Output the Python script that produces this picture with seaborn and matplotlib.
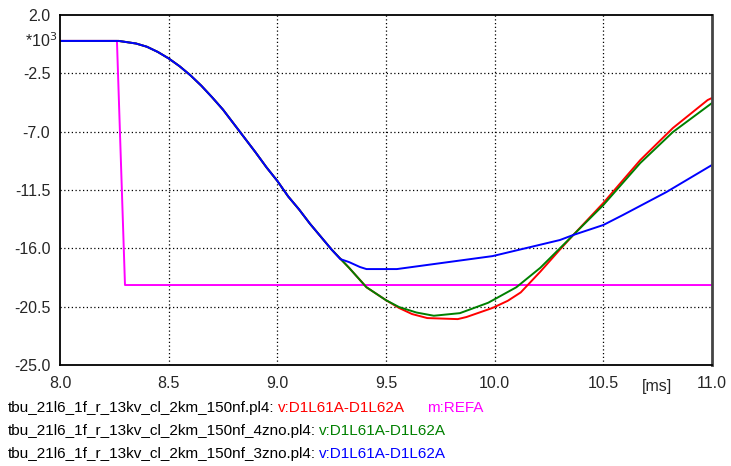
import numpy as np
import pandas as pd
import matplotlib
matplotlib.use("Agg")
import matplotlib.pyplot as plt
import seaborn as sns

# ---- data (time in ms, voltage in kV / *10^3) ----
t_common = [8.0, 8.27, 8.35, 8.40, 8.45, 8.50, 8.55, 8.60, 8.65, 8.70, 8.75, 8.80,
            8.85, 8.90, 8.95, 9.00, 9.05, 9.10, 9.15, 9.20, 9.25]
v_common = [0.0, 0.0, -0.2, -0.45, -0.85, -1.35, -1.95, -2.65, -3.45, -4.35, -5.3, -6.4,
            -7.5, -8.6, -9.75, -10.8, -12.0, -13.0, -14.1, -15.1, -16.1]

t_red = [9.33, 9.41, 9.50, 9.56, 9.62, 9.69, 9.76, 9.83, 9.87, 9.99, 10.06, 10.12, 10.21,
         10.30, 10.36, 10.50, 10.67, 10.82, 10.98, 11.0]
v_red = [-17.5, -19.0, -20.0, -20.6, -21.07, -21.38, -21.42, -21.46, -21.3, -20.6, -20.05, -19.4, -17.8,
         -16.1, -15.0, -12.5, -9.19, -6.72, -4.56, -4.4]

t_green = [9.33, 9.41, 9.50, 9.56, 9.64, 9.72, 9.84, 9.97, 10.10, 10.21, 10.30, 10.36,
           10.50, 10.67, 10.82, 11.0]
v_green = [-17.5, -19.0, -20.0, -20.53, -20.95, -21.2, -21.0, -20.2, -19.0, -17.5, -16.0, -15.0,
           -12.66, -9.42, -7.03, -4.79]

t_blue = [9.29, 9.33, 9.38, 9.41, 9.55, 9.99, 10.30, 10.36, 10.50, 10.59, 10.79, 11.0]
v_blue = [-16.83, -17.06, -17.44, -17.6, -17.6, -16.6, -15.36, -14.98, -14.2, -13.43, -11.66, -9.57]

t_ref = [8.0, 8.262, 8.299, 11.0]
v_ref = [0.0, 0.0, -18.83, -18.83]

x_ticks = [8.0, 8.5, 9.0, 9.5, 10.0, 10.5, 11.0]
y_ticks = [2.0, -2.5, -7.0, -11.5, -16.0, -20.5, -25.0]

files = ["tbu_21l6_1f_r_13kv_cl_2km_150nf.pl4:",
         "tbu_21l6_1f_r_13kv_cl_2km_150nf_4zno.pl4:",
         "tbu_21l6_1f_r_13kv_cl_2km_150nf_3zno.pl4:"]
signal = "v:D1L61A-D1L62A"
ref_name = "m:REFA"

RED, GREEN, BLUE, MAG = "#ff0000", "#008000", "#0000ff", "#ff00ff"

sns.set_style("white")
plt.rcParams["font.family"] = ["Liberation Sans", "DejaVu Sans"]

fig = plt.figure(figsize=(7.31, 4.66), dpi=100)
ax = fig.add_axes([60 / 731, 1 - 365 / 466, 652 / 731, 350 / 466])

def series(tc, vc, ts, vs, name):
    t = list(tc) + list(ts)
    v = list(vc) + list(vs)
    return pd.DataFrame({"t": t, "v": v, "s": name})

df_ref = pd.DataFrame({"t": t_ref, "v": v_ref, "s": "ref"})
sns.lineplot(data=df_ref, x="t", y="v", color=MAG, lw=1.4, ax=ax, sort=False, estimator=None)
sns.lineplot(data=series(t_common, v_common, t_red, v_red, "r"), x="t", y="v",
             color=RED, lw=1.4, ax=ax, sort=False, estimator=None)
sns.lineplot(data=series(t_common, v_common, t_green, v_green, "g"), x="t", y="v",
             color=GREEN, lw=1.4, ax=ax, sort=False, estimator=None)
sns.lineplot(data=series(t_common, v_common, t_blue, v_blue, "b"), x="t", y="v",
             color=BLUE, lw=1.4, ax=ax, sort=False, estimator=None)

ax.set_xlim(8.0, 11.0)
ax.set_ylim(-25.0, 2.0)
ax.set_xticks(x_ticks)
ax.set_yticks(y_ticks)
ax.set_xticklabels([f"{v:.1f}" for v in x_ticks])
ax.set_yticklabels([f"{v:.1f}" for v in y_ticks])
ax.set_xlabel("")
ax.set_ylabel("")
ax.tick_params(axis="both", direction="out", length=5, width=1, color="black",
               labelsize=11.5, pad=3)
ax.tick_params(axis="y", pad=2)
for xv in x_ticks[1:-1]:
    ax.axvline(xv, color="black", ls=(0, (1, 2)), lw=0.9, zorder=0)
for yv in y_ticks[1:-1]:
    ax.axhline(yv, color="black", ls=(0, (1, 2)), lw=0.9, zorder=0)
for side in ["left", "bottom", "top"]:
    ax.spines[side].set_color("black")
    ax.spines[side].set_linewidth(1.3)
ax.spines["right"].set_color("#444444")
ax.spines["right"].set_linewidth(2.0)

fig.text(57 / 731, 1 - 41 / 466, r"*10$^3$", ha="right", va="center", fontsize=11.5)
fig.text(657 / 731, 1 - 386 / 466, "[ms]", ha="center", va="center", fontsize=11.5)

# legend lines with coloured parts
fig.canvas.draw()
renderer = fig.canvas.get_renderer()
rows = [(files[0], [(signal, RED), (ref_name, MAG)]),
        (files[1], [(signal, GREEN)]),
        (files[2], [(signal, BLUE)])]
ys = [408, 431, 454]
for (fname, parts), yp in zip(rows, ys):
    x = 8
    t = fig.text(x / 731, 1 - yp / 466, fname, ha="left", va="center", fontsize=11, color="black")
    x = t.get_window_extent(renderer).x1 + 3
    for k, (txt, col) in enumerate(parts):
        if k > 0:
            x += 23
        tt = fig.text(x / 731, 1 - yp / 466, txt, ha="left", va="center", fontsize=11, color=col)
        x = tt.get_window_extent(renderer).x1

fig.savefig("out.png", dpi=100)
